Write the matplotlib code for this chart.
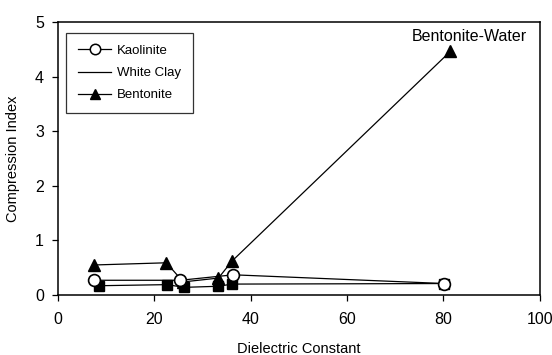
import matplotlib
matplotlib.use("Agg")
import matplotlib.pyplot as plt
from matplotlib.lines import Line2D

plt.rcParams["font.family"] = ["Liberation Sans", "DejaVu Sans"]

# Kaolinite
kao_x = [7.4, 25.4, 36.4, 80.2]
kao_y = [0.27, 0.27, 0.37, 0.21]
# White Clay
wc_x = [8.5, 22.7, 26.1, 33.3, 36.1, 80.2]
wc_y = [0.17, 0.19, 0.14, 0.16, 0.20, 0.21]
# Bentonite
ben_x = [7.5, 22.5, 26.0, 33.3, 36.1, 81.4]
ben_y = [0.55, 0.59, 0.24, 0.31, 0.62, 4.46]

fig, ax = plt.subplots(figsize=(5.52, 3.55), dpi=100)
fig.subplots_adjust(left=0.105, right=0.978, top=0.938, bottom=0.169)

ax.plot(wc_x, wc_y, color="k", lw=0.9, marker="s", ms=7, mfc="k", mec="k")
ax.plot(ben_x, ben_y, color="k", lw=0.9, marker="^", ms=8, mfc="k", mec="k")
ax.plot(kao_x, kao_y, color="k", lw=0.9, marker="o", ms=8.5, mfc="white", mec="k", mew=1.2)

ax.text(85.3, 4.6, "Bentonite-Water", ha="center", va="bottom", fontsize=11.5)

ax.set_xlim(0, 100)
ax.set_ylim(0, 5)
ax.set_xticks([0, 20, 40, 60, 80, 100])
ax.set_yticks([0, 1, 2, 3, 4, 5])
ax.tick_params(direction="out", length=4, width=0.9, labelsize=11.5, color="k")
ax.tick_params(axis="x", pad=8)
ax.tick_params(axis="y", pad=6)
for s in ax.spines.values():
    s.set_linewidth(1.1)
ax.set_xlabel("Dielectric Constant", fontsize=10.5, labelpad=11)
ax.set_ylabel("Compression Index", fontsize=10.5, labelpad=11)

handles = [
    Line2D([], [], color="k", lw=0.9, marker="o", ms=7.5, mfc="white", mec="k", mew=1.1),
    Line2D([], [], color="k", lw=0.9),
    Line2D([], [], color="k", lw=0.9, marker="^", ms=7, mfc="k", mec="k"),
]
leg = ax.legend(handles, ["Kaolinite", "White Clay", "Bentonite"], loc="upper left",
                bbox_to_anchor=(0.017, 0.96), fontsize=9.5, frameon=True, fancybox=False,
                edgecolor="k", handlelength=2.5, borderpad=0.9, labelspacing=0.75,
                handletextpad=0.45, borderaxespad=0.0)
leg.get_frame().set_linewidth(0.9)

fig.savefig("out.png", dpi=100)
